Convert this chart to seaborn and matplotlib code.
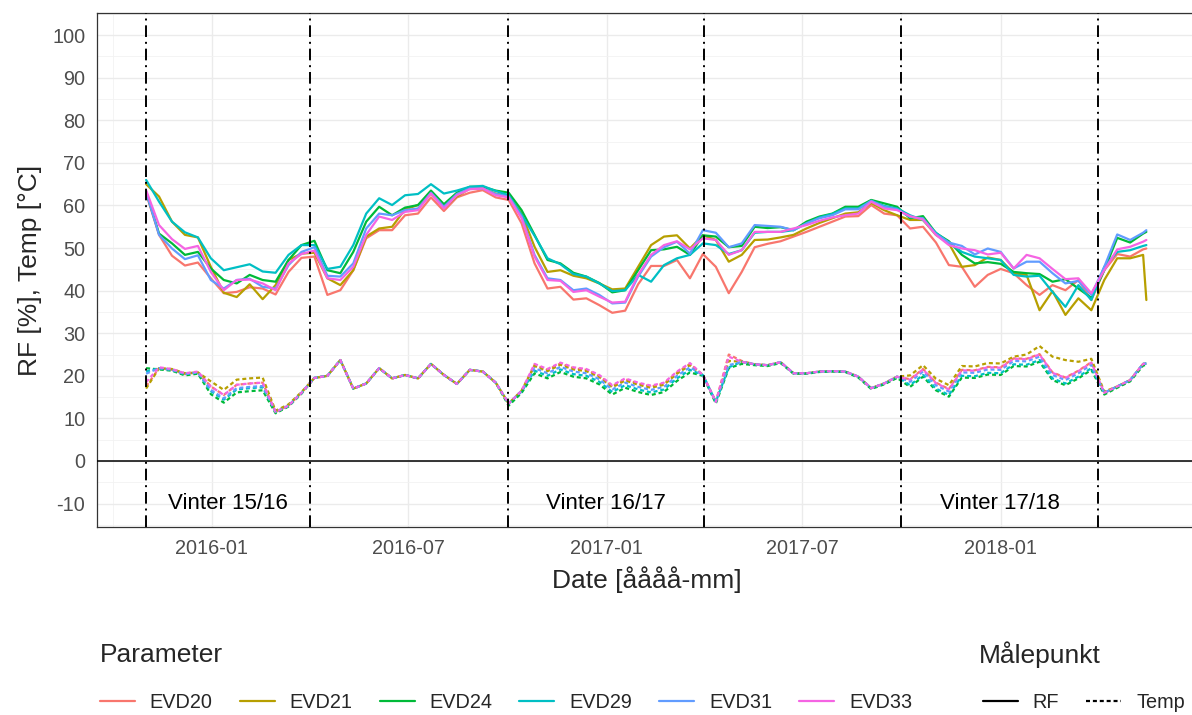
import pandas as pd
import matplotlib.pyplot as plt
import matplotlib.dates as mdates
from matplotlib.ticker import MultipleLocator, FixedLocator
from matplotlib.lines import Line2D
import seaborn as sns


dates = list(pd.date_range('2015-11-01', periods=78, freq='12D')) + [pd.Timestamp('2018-05-16')]

sensors = ['EVD20', 'EVD21', 'EVD24', 'EVD29', 'EVD31', 'EVD33']
colors = ['#F8766D', '#B79F00', '#00BA38', '#00BFC4', '#619CFF', '#F564E3']

rf_evd20 = [62.8, 53.1, 48.2, 45.9, 46.6, 42.9, 39.4, 39.7, 40.8, 40.5,
            39.1, 44.4, 47.7, 48.0, 39.0, 40.1, 44.8, 52.3, 54.2, 54.2,
            57.7, 58.1, 61.9, 58.7, 61.9, 63.0, 63.6, 61.9, 61.3, 55.8,
            46.4, 40.5, 40.9, 37.9, 38.2, 36.6, 34.8, 35.3, 41.5, 45.8,
            45.8, 47.2, 42.9, 48.6, 45.6, 39.4, 44.4, 50.2, 51.0, 51.6,
            52.7, 53.8, 55.0, 56.2, 57.4, 57.5, 60.1, 58.1, 57.7, 54.6,
            55.0, 51.3, 46.0, 45.6, 40.9, 43.7, 45.1, 44.1, 41.3, 39.0,
            41.3, 40.1, 42.5, 37.8, 44.8, 48.6, 48.0, 49.7, 49.9]
rf_evd21 = [65.0, 62.1, 56.2, 53.1, 52.5, 45.6, 39.5, 38.5, 41.5, 38.0,
            41.3, 47.2, 48.7, 48.9, 42.9, 41.3, 44.8, 52.7, 54.6, 55.0,
            59.1, 60.1, 62.8, 59.5, 62.1, 64.0, 64.0, 62.8, 62.2, 58.1,
            50.3, 44.4, 44.8, 43.5, 42.9, 41.7, 40.3, 40.5, 45.6, 50.7,
            52.7, 53.0, 49.9, 53.0, 51.9, 46.8, 48.4, 51.9, 52.0, 52.5,
            53.1, 54.6, 55.9, 57.0, 58.1, 58.4, 60.6, 58.9, 57.7, 56.6,
            56.6, 53.1, 51.1, 45.6, 46.0, 47.8, 47.2, 44.1, 43.7, 35.4,
            39.9, 34.3, 38.2, 35.4, 42.5, 47.6, 47.6, 48.4, 37.8]
rf_evd24 = [63.2, 53.4, 51.1, 48.4, 49.1, 45.2, 42.5, 41.7, 43.7, 42.5,
            42.1, 47.2, 50.7, 51.7, 44.8, 44.1, 49.1, 56.2, 59.7, 57.7,
            59.5, 60.1, 63.5, 60.3, 63.0, 64.4, 64.4, 63.5, 63.0, 58.9,
            53.1, 47.2, 46.4, 44.2, 43.3, 41.8, 39.6, 40.1, 44.8, 49.5,
            49.7, 50.3, 48.4, 53.0, 52.7, 50.2, 50.5, 55.0, 54.7, 54.9,
            54.2, 56.2, 57.4, 58.1, 59.7, 59.7, 61.3, 60.5, 59.7, 57.0,
            57.5, 53.5, 51.6, 48.4, 46.4, 46.7, 46.3, 44.4, 44.1, 43.9,
            42.1, 42.7, 40.5, 38.3, 44.8, 52.4, 51.3, 53.4, 53.8]
rf_evd29 = [66.0, 60.9, 56.2, 53.7, 52.5, 47.6, 44.8, 45.5, 46.2, 44.5,
            44.2, 48.4, 50.7, 50.7, 45.1, 45.6, 50.7, 58.1, 61.7, 60.1,
            62.4, 62.7, 65.0, 62.8, 63.5, 64.4, 64.6, 63.4, 62.4, 57.8,
            52.9, 47.6, 46.2, 43.9, 43.3, 41.7, 39.9, 40.1, 43.7, 42.1,
            46.0, 47.6, 48.4, 51.1, 50.7, 48.6, 49.5, 53.6, 53.8, 53.8,
            54.2, 55.8, 57.2, 58.0, 59.3, 59.3, 61.1, 59.9, 59.3, 57.7,
            56.6, 53.6, 51.3, 49.1, 48.0, 47.6, 47.2, 43.7, 43.3, 43.5,
            39.7, 36.2, 41.3, 37.8, 45.6, 49.1, 49.5, 50.5, 50.7]
rf_evd31 = [63.2, 53.1, 49.9, 47.4, 48.3, 42.5, 40.5, 42.5, 42.8, 40.9,
            40.5, 46.0, 49.1, 50.2, 43.5, 43.3, 46.4, 54.6, 58.1, 57.7,
            58.9, 59.3, 63.0, 59.7, 62.7, 64.0, 64.0, 62.7, 62.1, 57.4,
            48.4, 42.9, 42.5, 40.1, 40.5, 39.0, 37.0, 37.2, 43.3, 48.0,
            50.2, 51.5, 48.7, 54.2, 53.6, 50.2, 51.1, 55.4, 55.2, 55.0,
            54.2, 55.8, 57.0, 57.7, 59.1, 59.1, 61.1, 59.7, 59.1, 57.3,
            57.0, 53.3, 51.3, 50.5, 48.5, 49.9, 49.1, 45.2, 46.8, 46.8,
            44.1, 41.7, 42.3, 39.0, 45.6, 53.2, 51.9, 53.6, 54.2]
rf_evd33 = [63.6, 55.4, 52.1, 49.8, 50.5, 44.4, 40.1, 42.5, 42.6, 41.7,
            40.1, 46.4, 48.6, 49.4, 42.9, 42.5, 45.6, 53.1, 57.4, 56.6,
            58.5, 58.9, 62.8, 59.3, 62.4, 63.8, 64.0, 62.4, 61.9, 57.0,
            48.0, 42.5, 42.3, 39.7, 40.1, 38.6, 37.2, 37.4, 43.7, 48.4,
            50.7, 51.6, 49.7, 52.3, 51.9, 48.4, 49.5, 53.8, 53.8, 53.8,
            54.6, 55.4, 56.4, 57.2, 57.7, 58.1, 60.9, 59.3, 58.9, 57.5,
            56.7, 53.1, 50.7, 49.9, 49.5, 48.5, 48.9, 45.2, 48.4, 47.6,
            45.1, 42.7, 42.9, 39.4, 44.8, 49.7, 50.3, 51.5, 51.9]

temp_evd20 = [17.5, 21.8, 21.4, 20.4, 20.8, 17.5, 15.5, 17.9, 18.2, 18.4,
              11.5, 13.0, 16.0, 19.5, 20.0, 23.7, 17.0, 18.2, 21.8, 19.4,
              20.2, 19.4, 22.8, 20.2, 18.1, 21.4, 21.0, 18.4, 13.5, 16.5,
              22.6, 21.4, 22.9, 21.8, 21.4, 20.0, 17.6, 19.2, 18.2, 17.5,
              18.2, 20.8, 22.8, 20.2, 13.9, 25.0, 23.5, 22.7, 22.5, 23.2,
              20.6, 20.6, 21.0, 21.1, 21.0, 19.8, 17.1, 18.2, 19.8, 19.2,
              21.6, 18.4, 16.9, 21.4, 21.3, 22.1, 22.0, 24.1, 24.0, 25.1,
              20.8, 19.6, 21.2, 23.2, 16.0, 17.5, 19.0, 22.8, 22.9]
temp_evd21 = [17.0, 21.8, 21.6, 20.6, 20.8, 18.7, 16.7, 19.1, 19.4, 19.6,
              11.8, 13.3, 16.2, 19.5, 20.0, 23.7, 17.0, 18.2, 21.8, 19.4,
              20.2, 19.4, 22.8, 20.2, 18.1, 21.4, 21.0, 18.4, 13.5, 16.5,
              22.3, 21.1, 22.6, 21.5, 21.1, 19.7, 17.3, 18.9, 17.9, 17.2,
              17.9, 20.5, 22.5, 20.2, 13.9, 23.5, 23.3, 22.7, 22.5, 23.2,
              20.6, 20.6, 21.0, 21.1, 21.0, 19.8, 17.1, 18.2, 19.8, 20.1,
              22.5, 19.3, 17.8, 22.3, 22.2, 23.0, 22.9, 24.5, 25.0, 27.0,
              24.5, 23.7, 23.3, 24.0, 16.3, 17.5, 19.0, 22.8, 22.9]
temp_evd24 = [21.8, 21.5, 21.2, 20.1, 20.5, 15.7, 13.7, 16.1, 16.4, 16.6,
              11.2, 12.8, 15.8, 19.5, 20.0, 23.7, 17.0, 18.2, 21.8, 19.4,
              20.2, 19.4, 22.8, 20.2, 18.1, 21.4, 21.0, 18.4, 13.0, 16.0,
              20.6, 19.4, 20.9, 19.8, 19.4, 18.0, 15.6, 17.2, 16.2, 15.5,
              16.2, 18.8, 20.8, 20.0, 13.5, 21.8, 22.8, 22.5, 22.3, 23.0,
              20.5, 20.5, 20.9, 21.0, 20.9, 19.6, 16.9, 18.0, 19.5, 17.4,
              19.8, 16.6, 15.1, 19.6, 19.5, 20.3, 20.2, 22.3, 22.2, 23.3,
              19.0, 17.8, 19.4, 21.4, 15.6, 17.2, 18.7, 22.4, 22.6]
temp_evd29 = [21.0, 21.8, 21.4, 20.4, 20.8, 16.4, 14.4, 16.8, 17.1, 17.3,
              11.5, 13.0, 16.0, 19.5, 20.0, 23.7, 17.0, 18.2, 21.8, 19.4,
              20.2, 19.4, 22.8, 20.2, 18.1, 21.4, 21.0, 18.4, 13.5, 16.3,
              21.2, 20.0, 21.5, 20.4, 20.0, 18.6, 16.2, 17.8, 16.8, 16.1,
              16.8, 19.4, 21.4, 20.2, 13.9, 22.0, 23.3, 22.7, 22.5, 23.2,
              20.6, 20.6, 21.0, 21.1, 21.0, 19.8, 17.1, 18.2, 19.8, 17.8,
              20.2, 17.0, 15.5, 20.0, 19.9, 20.7, 20.6, 22.7, 22.6, 23.7,
              19.4, 18.2, 19.8, 21.8, 16.0, 17.5, 19.0, 22.8, 22.9]
temp_evd31 = [20.5, 21.8, 21.4, 20.4, 20.8, 16.7, 14.7, 17.1, 17.4, 17.6,
              11.5, 13.0, 16.0, 19.5, 20.0, 23.7, 17.0, 18.2, 21.8, 19.4,
              20.2, 19.4, 22.8, 20.2, 18.1, 21.4, 21.0, 18.4, 13.5, 16.5,
              21.8, 20.6, 22.1, 21.0, 20.6, 19.2, 16.8, 18.4, 17.4, 16.7,
              17.4, 20.0, 22.0, 20.2, 13.9, 22.5, 23.3, 22.7, 22.5, 23.2,
              20.6, 20.6, 21.0, 21.1, 21.0, 19.8, 17.1, 18.2, 19.8, 18.6,
              21.0, 17.8, 16.3, 20.8, 20.7, 21.5, 21.4, 23.5, 23.4, 24.5,
              20.2, 19.0, 20.6, 22.6, 16.0, 17.5, 19.0, 22.8, 22.9]
temp_evd33 = [18.5, 22.0, 21.6, 20.6, 21.0, 17.5, 15.5, 17.9, 18.2, 18.4,
              11.5, 13.0, 16.0, 19.5, 20.0, 23.7, 17.0, 18.2, 21.8, 19.4,
              20.2, 19.4, 22.8, 20.2, 18.1, 21.4, 21.0, 18.4, 13.5, 16.5,
              22.8, 21.6, 23.1, 22.0, 21.6, 20.2, 17.8, 19.4, 18.4, 17.7,
              18.4, 21.0, 23.0, 20.2, 13.9, 24.5, 23.3, 22.7, 22.5, 23.2,
              20.6, 20.6, 21.0, 21.1, 21.0, 19.8, 17.1, 18.2, 19.8, 19.1,
              21.5, 18.3, 16.8, 21.3, 21.2, 22.0, 21.9, 24.0, 23.9, 25.0,
              20.7, 19.5, 21.1, 23.1, 16.0, 17.5, 19.0, 22.8, 22.9]

winter_start = ['2015-11-01', '2016-10-01', '2017-10-01']
winter_end = ['2016-04-01', '2017-04-01', '2018-04-01']
winter_labels = ['Vinter 15/16', 'Vinter 16/17', 'Vinter 17/18']

x_ticks = ['2016-01-01', '2016-07-01', '2017-01-01', '2017-07-01', '2018-01-01']
x_minor = ['2015-10-01', '2016-04-01', '2016-10-01', '2017-04-01', '2017-10-01', '2018-04-01']


rf_lists = [rf_evd20, rf_evd21, rf_evd24, rf_evd29, rf_evd31, rf_evd33]
temp_lists = [temp_evd20, temp_evd21, temp_evd24, temp_evd29, temp_evd31, temp_evd33]

rows = []
for name, rf_vals, t_vals in zip(sensors, rf_lists, temp_lists):
    for d, r, t in zip(dates, rf_vals, t_vals):
        rows.append((d, r, name, 'RF'))
        rows.append((d, t, name, 'Temp'))
df = pd.DataFrame(rows, columns=['Date', 'Verdi', 'Parameter', 'Målepunkt'])


sns.set_style('white')
plt.rcParams['font.family'] = ['Liberation Sans', 'DejaVu Sans']
plt.rcParams['axes.unicode_minus'] = False

fig = plt.figure(figsize=(11.92, 7.15), dpi=100)
ax = fig.add_axes([97 / 1192, 1 - 527 / 715, 1099 / 1192, 514 / 715])

sns.lineplot(data=df, x='Date', y='Verdi', hue='Parameter', style='Målepunkt',
             palette=dict(zip(sensors, colors)),
             dashes={'RF': '', 'Temp': (1.8, 1.3)},
             linewidth=1.6, estimator=None, legend=False, ax=ax, zorder=2)

ax.axhline(0, color='black', lw=1.1, zorder=3)
for d in winter_start + winter_end:
    ax.axvline(pd.Timestamp(d), color='black', lw=1.4, ls=(0, (6, 2.5, 1, 2.5)), zorder=3)

for s, e, lab in zip(winter_start, winter_end, winter_labels):
    s, e = pd.Timestamp(s), pd.Timestamp(e)
    ax.text(s + (e - s) / 2, -10, lab, ha='center', va='center', fontsize=16, color='black')

ax.set_xlim(pd.Timestamp('2015-09-16 12:00'), pd.Timestamp('2018-07-01'))
ax.set_ylim(-15.5, 105.2)

ax.xaxis.set_major_locator(FixedLocator(mdates.date2num(pd.to_datetime(x_ticks))))
ax.xaxis.set_minor_locator(FixedLocator(mdates.date2num(pd.to_datetime(x_minor))))
ax.xaxis.set_major_formatter(mdates.DateFormatter('%Y-%m'))
ax.yaxis.set_major_locator(MultipleLocator(10))
ax.yaxis.set_minor_locator(MultipleLocator(5))

ax.grid(True, which='major', color='#EBEBEB', lw=1.0)
ax.grid(True, which='minor', color='#F2F2F2', lw=0.6)
ax.set_axisbelow(True)

for sp in ax.spines.values():
    sp.set_color('#333333')
    sp.set_linewidth(0.9)
ax.tick_params(which='major', length=5.5, width=0.9, color='#333333',
               labelcolor='#4D4D4D', labelsize=14.3, pad=3)
ax.tick_params(which='minor', length=0)

ax.set_xlabel('Date [åååå-mm]', fontsize=19, va='center')
ax.xaxis.set_label_coords(0.5, (527 - 580) / 514)
ax.set_ylabel('RF [%], Temp [°C]', fontsize=19, va='center')
ax.yaxis.set_label_coords((30 - 97) / 1099, 0.5)

# legends (ggplot style, bottom, horizontal)
par_handles = [Line2D([], [], color=c, lw=1.6) for c in colors]
fig.legend(par_handles, sensors, loc='center left', bbox_to_anchor=(100 / 1192, 13 / 715),
           ncol=6, frameon=False, fontsize=14.3, handlelength=1.76, handletextpad=0.75,
           columnspacing=1.36, borderpad=0, borderaxespad=0)
fig.text(100 / 1192, 60 / 715, 'Parameter', fontsize=19, ha='left', va='center')

mp_handles = [Line2D([], [], color='black', lw=1.6),
              Line2D([], [], color='black', lw=1.6, ls=(0, (1.8, 1.3)))]
fig.legend(mp_handles, ['RF', 'Temp'], loc='center left', bbox_to_anchor=(983 / 1192, 13 / 715),
           ncol=2, frameon=False, fontsize=14.3, handlelength=1.76, handletextpad=0.75,
           columnspacing=1.36, borderpad=0, borderaxespad=0)
fig.text(979 / 1192, 60 / 715, 'Målepunkt', fontsize=19, ha='left', va='center')

fig.savefig('out.png', dpi=100)
